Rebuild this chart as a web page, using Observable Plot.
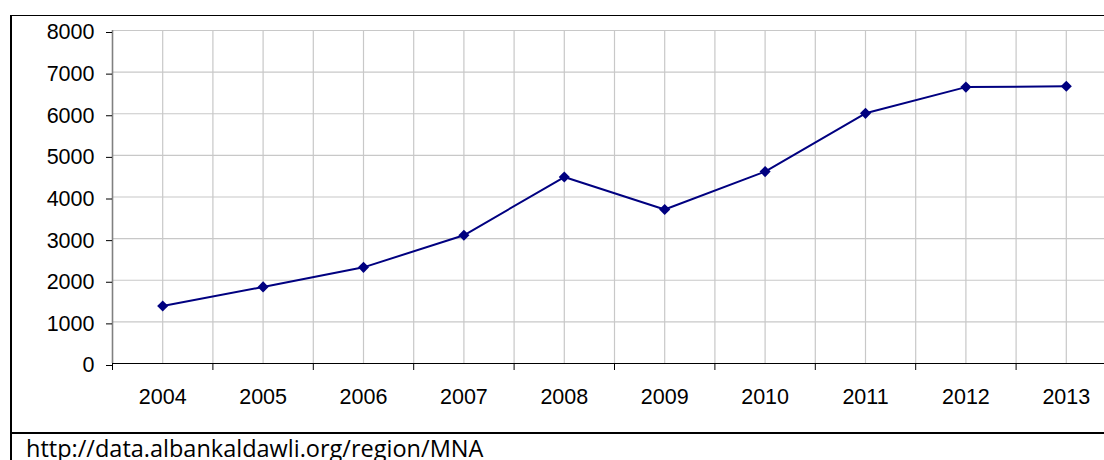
<!DOCTYPE html>
<html>
<head>
<meta charset="utf-8">
<script src="https://cdn.jsdelivr.net/npm/d3@7"></script>
<script src="https://cdn.jsdelivr.net/npm/@observablehq/plot@0.6"></script>
<style>
  html, body { margin: 0; padding: 0; background: #fff; }
  #wrap { position: relative; width: 1104px; height: 460px; overflow: hidden; background: #fff; }
  #chart { position: absolute; left: 0; top: 0; }
  #frame { position: absolute; left: 10px; top: 15px; width: 1200px; height: 500px;
           border-left: 2px solid #000; border-top: 1px solid #000; box-sizing: border-box; }
  #sep { position: absolute; left: 10px; top: 432px; width: 1200px; height: 2px; background: #000; }
  #caption { position: absolute; left: 26px; top: 436px; font-family: "Open Sans", sans-serif;
             font-size: 23.5px; line-height: 24px; color: #000; white-space: nowrap; }
</style>
</head>
<body>
<div id="wrap">
  <div id="chart"></div>
  <div id="frame"></div>
  <div id="sep"></div>
  <div id="caption"></div>
</div>
<script>
const years = [2004, 2005, 2006, 2007, 2008, 2009, 2010, 2011, 2012, 2013];
const values = [1380, 1840, 2310, 3080, 4480, 3700, 4610, 6010, 6640, 6660];
const yTicks = [0, 1000, 2000, 3000, 4000, 5000, 6000, 7000, 8000];
const captionText = "http://data.albankaldawli.org/region/MNA";

const data = years.map((y, i) => ({year: y, value: values[i]}));
const boundaries = [years[0] - 0.5, ...years.map(y => y + 0.5)];
const gridX = [...years, ...years.map(y => y + 0.5)];

const chart = Plot.plot({
  width: 1104,
  height: 432,
  marginLeft: 112,
  marginRight: 0,
  marginTop: 30,
  marginBottom: 69,
  x: {type: "linear", domain: [years[0] - 0.5, years[years.length - 1] + 0.5], range: [112, 1116]},
  y: {type: "linear", domain: [0, 8000]},
  style: {fontFamily: "'Liberation Sans', Arial, sans-serif", fontSize: "21.5px", color: "#000", background: "transparent", overflow: "visible"},
  marks: [
    Plot.ruleY(yTicks.filter(d => d > 0), {stroke: "#c8c8c8", strokeWidth: 1.2}),
    Plot.ruleX(gridX, {stroke: "#c8c8c8", strokeWidth: 1.2}),
    Plot.ruleX([boundaries[0]], {stroke: "#808080", strokeWidth: 1.6}),
    Plot.ruleY([0], {stroke: "#000", strokeWidth: 1.2}),
    Plot.axisY({ticks: yTicks, tickSize: 6, tickPadding: 12, tickFormat: d => String(d), label: null, dy: 2}),
    Plot.axisX({ticks: years, tickSize: 0, tickPadding: 25, tickFormat: d => String(d), label: null}),
    Plot.axisX({ticks: boundaries, tickSize: 7, tickFormat: () => "", label: null}),
    Plot.line(data, {x: "year", y: "value", stroke: "#000080", strokeWidth: 2}),
    Plot.dot(data, {x: "year", y: "value", symbol: "diamond2", r: 5, fill: "#000080", stroke: "none"})
  ]
});
document.getElementById("chart").appendChild(chart);
document.getElementById("caption").textContent = captionText;
</script>
</body>
</html>
